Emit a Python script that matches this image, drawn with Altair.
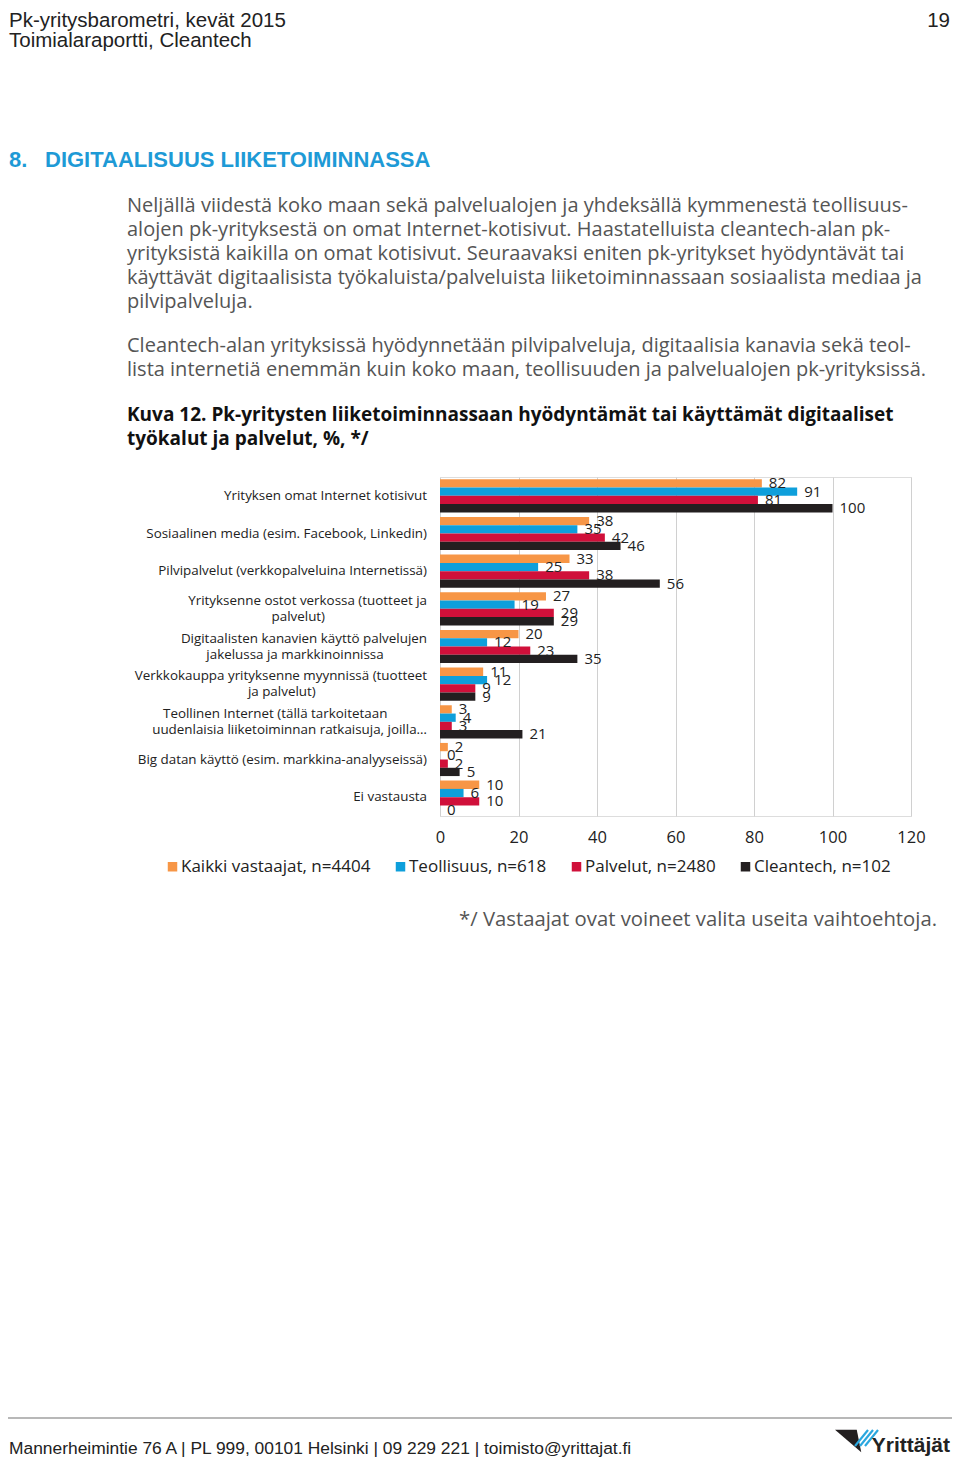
import altair as alt
import pandas as pd

# ---------------- data ----------------
CATEGORIES = [
    "Yrityksen omat Internet kotisivut",
    "Sosiaalinen media (esim. Facebook, Linkedin)",
    "Pilvipalvelut  (verkkopalveluina Internetissä)",
    "Yrityksenne ostot verkossa (tuotteet ja palvelut)",
    "Digitaalisten kanavien käyttö palvelujen jakelussa ja markkinoinnissa",
    "Verkkokauppa yrityksenne myynnissä (tuotteet ja palvelut)",
    "Teollinen Internet (tällä tarkoitetaan uudenlaisia liiketoiminnan ratkaisuja, joilla…",
    "Big datan käyttö (esim. markkina-analyyseissä)",
    "Ei vastausta",
]
CAT_LINE1 = [
    "Yrityksen omat Internet kotisivut",
    "Sosiaalinen media (esim. Facebook, Linkedin)",
    "Pilvipalvelut  (verkkopalveluina Internetissä)",
    "Yrityksenne ostot verkossa (tuotteet ja",
    "Digitaalisten kanavien käyttö palvelujen",
    "Verkkokauppa yrityksenne myynnissä (tuotteet",
    "Teollinen Internet (tällä tarkoitetaan",
    "Big datan käyttö (esim. markkina-analyyseissä)",
    "Ei vastausta",
]
CAT_LINE2 = [
    "", "", "",
    "palvelut)",
    "jakelussa ja markkinoinnissa",
    "ja palvelut)",
    "uudenlaisia liiketoiminnan ratkaisuja, joilla…",
    "", "",
]
SERIES = ["Kaikki vastaajat, n=4404", "Teollisuus, n=618", "Palvelut, n=2480", "Cleantech, n=102"]
KAIKKI = [82, 38, 33, 27, 20, 11, 3, 2, 10]
TEOLLISUUS = [91, 35, 25, 19, 12, 12, 4, 0, 6]
PALVELUT = [81, 42, 38, 29, 23, 9, 3, 2, 10]
CLEANTECH = [100, 46, 56, 29, 35, 9, 21, 5, 0]
X_TICKS = [0, 20, 40, 60, 80, 100, 120]
COLORS = ["#F79646", "#0E9FDB", "#D0103A", "#231F20"]

HEADER_1 = "Pk-yritysbarometri, kevät 2015"
HEADER_2 = "Toimialaraportti, Cleantech"
PAGE_NO = "19"
HEADING_NO = "8."
HEADING = "DIGITAALISUUS LIIKETOIMINNASSA"
PARA1 = [
    "Neljällä viidestä koko maan sekä palvelualojen ja yhdeksällä kymmenestä teollisuus-",
    "alojen pk-yrityksestä on omat Internet-kotisivut. Haastatelluista cleantech-alan pk-",
    "yrityksistä kaikilla on omat kotisivut. Seuraavaksi eniten pk-yritykset hyödyntävät tai",
    "käyttävät digitaalisista työkaluista/palveluista liiketoiminnassaan sosiaalista mediaa ja",
    "pilvipalveluja.",
]
PARA2 = [
    "Cleantech-alan yrityksissä hyödynnetään pilvipalveluja, digitaalisia kanavia sekä teol-",
    "lista internetiä enemmän kuin koko maan, teollisuuden ja palvelualojen pk-yrityksissä.",
]
CAPTION = [
    "Kuva 12. Pk-yritysten liiketoiminnassaan hyödyntämät tai käyttämät digitaaliset",
    "työkalut ja palvelut, %, */",
]
FOOTNOTE = "*/ Vastaajat ovat voineet valita useita vaihtoehtoja."
FOOTER = "Mannerheimintie 76 A | PL 999, 00101 Helsinki | 09 229 221 | toimisto@yrittajat.fi"
LOGO_TEXT = "Yrittäjät"

# ---------------- layout constants ----------------
PLOT_X0, PLOT_Y0 = 440, 477          # page position of plot origin
PLOT_W, PLOT_H = 471, 339
TOTAL_W, TOTAL_H = 944, 1450
BODY = "Open Sans"
NARROW = "Liberation Sans, Arial, sans-serif"
DARK = "#222222"
GREY = "#555555"

rows = []
for i, c in enumerate(CATEGORIES):
    for s, vals in zip(SERIES, [KAIKKI, TEOLLISUUS, PALVELUT, CLEANTECH]):
        rows.append({"cat": c, "series": s, "value": vals[i]})
df = pd.DataFrame(rows)

lab = pd.DataFrame({"cat": CATEGORIES, "l1": CAT_LINE1, "l2": CAT_LINE2})

y_enc = alt.Y("cat:N", sort=CATEGORIES, axis=None,
              scale=alt.Scale(domain=CATEGORIES, paddingInner=0.12, paddingOuter=0.06))
yoff = alt.YOffset("series:N", sort=SERIES,
                   scale=alt.Scale(domain=SERIES, paddingInner=0, paddingOuter=0))
x_enc = alt.X("value:Q", title=None,
              scale=alt.Scale(domain=[0, 120], nice=False, zero=True),
              axis=alt.Axis(values=X_TICKS, grid=True, gridColor="#d0d0d0", domain=False,
                            ticks=False, labelPadding=13, labelFontSize=16.5, labelFont=BODY,
                            labelColor=DARK, labelFlush=False))

bars = alt.Chart(df).mark_bar().encode(
    x=x_enc, y=y_enc, yOffset=yoff,
    color=alt.Color("series:N", sort=SERIES,
                    scale=alt.Scale(domain=SERIES, range=COLORS),
                    legend=alt.Legend(orient="none", legendX=164 - PLOT_X0, legendY=858 - PLOT_Y0,
                                      direction="horizontal", title=None, symbolType="square",
                                      symbolSize=90, symbolStrokeWidth=0, labelFontSize=17,
                                      labelFont=BODY, labelColor=DARK, columnPadding=21,
                                      labelOffset=0, padding=0, labelLimit=0)),
)

values_txt = alt.Chart(df).mark_text(align="left", baseline="middle", dx=7, fontSize=15,
                                     font=BODY, color=DARK).encode(
    x=x_enc, y=y_enc, yOffset=yoff, text="value:Q")

# category labels: longer line right-aligned, shorter line centred under/over it
LAB_FS = 13.4
lab_base = alt.Chart(lab).transform_calculate(
    n1="length(datum.l1)", n2="length(datum.l2)",
    two="datum.l2 != ''",
    cx="-13 - 3.3 * max(length(datum.l1), length(datum.l2))",
)
lab_y = alt.Y("cat:N", sort=CATEGORIES, axis=None)
lab_single = lab_base.transform_filter("!datum.two").mark_text(
    align="right", baseline="middle", fontSize=LAB_FS, font=BODY, color=DARK).encode(
    y=lab_y, x=alt.value(-13), text="l1:N")
lab_1r = lab_base.transform_filter("datum.two && datum.n1 >= datum.n2").mark_text(
    align="right", baseline="middle", dy=-8, fontSize=LAB_FS, font=BODY, color=DARK).encode(
    y=lab_y, x=alt.value(-13), text="l1:N")
lab_1c = lab_base.transform_filter("datum.two && datum.n1 < datum.n2").mark_text(
    align="center", baseline="middle", dy=-8, fontSize=LAB_FS, font=BODY, color=DARK).encode(
    y=lab_y, x=alt.X("cx:Q", scale=None), text="l1:N")
lab_2r = lab_base.transform_filter("datum.two && datum.n2 > datum.n1").mark_text(
    align="right", baseline="middle", dy=8, fontSize=LAB_FS, font=BODY, color=DARK).encode(
    y=lab_y, x=alt.value(-13), text="l2:N")
lab_2c = lab_base.transform_filter("datum.two && datum.n2 <= datum.n1").mark_text(
    align="center", baseline="middle", dy=8, fontSize=LAB_FS, font=BODY, color=DARK).encode(
    y=lab_y, x=alt.X("cx:Q", scale=None), text="l2:N")

ONE = pd.DataFrame({"k": [0]})


def txt(s, px, py, size, color=DARK, font=BODY, weight="normal", align="left"):
    return alt.Chart(ONE).mark_text(text=s, align=align, baseline="middle", fontSize=size,
                                    font=font, fontWeight=weight, color=color).encode(
        x=alt.value(px - PLOT_X0), y=alt.value(py - PLOT_Y0))


page = [
    txt(HEADER_1, 9, 21, 20.5, font=NARROW),
    txt(HEADER_2, 9, 41, 20.5, font=NARROW),
    txt(PAGE_NO, 950, 21, 20.5, font=NARROW, align="right"),
    txt(HEADING_NO, 9, 160, 22, color="#1E9AD6", font=NARROW, weight="bold"),
    txt(HEADING, 45, 160, 22, color="#1E9AD6", font=NARROW, weight="bold"),
]
for i, line in enumerate(PARA1):
    page.append(txt(line, 127, 206 + 24 * i, 20, color=GREY))
for i, line in enumerate(PARA2):
    page.append(txt(line, 127, 346 + 24 * i, 20, color=GREY))
for i, line in enumerate(CAPTION):
    page.append(txt(line, 127, 415 + 24 * i, 19, color="#111111", weight="bold"))
page.append(txt(FOOTNOTE, 937, 920, 20.3, color=GREY, align="right"))
page.append(txt(FOOTER, 9, 1449, 17.4, font=NARROW))

footer_rule = alt.Chart(ONE).mark_rule(color="#a0a0a0", strokeWidth=1.5).encode(
    x=alt.value(8 - PLOT_X0), x2=alt.value(952 - PLOT_X0),
    y=alt.value(1418 - PLOT_Y0))

logo_black = alt.Chart(ONE).mark_point(
    shape="M-1,-0.75L0.45,-0.75L0.75,0.75Z", filled=True, size=900, opacity=1,
    color="#231F20").encode(x=alt.value(850 - PLOT_X0), y=alt.value(1441 - PLOT_Y0))
logo_stripes = [
    alt.Chart(ONE).mark_rule(color="#2AA7DF", strokeWidth=2.2).encode(
        x=alt.value(x0 - PLOT_X0), y=alt.value(1430 - PLOT_Y0),
        x2=alt.value(x0 - 13 - PLOT_X0), y2=alt.value(1446 - PLOT_Y0))
    for x0 in (868, 873, 878)
]
logo_text = txt(LOGO_TEXT, 950, 1446, 21, font="Liberation Sans", weight="bold", align="right")

chart = alt.layer(
    bars, values_txt, lab_single, lab_1r, lab_1c, lab_2r, lab_2c,
    *page, footer_rule, logo_black, *logo_stripes, logo_text,
).properties(
    width=PLOT_W, height=PLOT_H,
    padding={"left": PLOT_X0 - 8, "top": PLOT_Y0 - 8,
             "right": TOTAL_W - (PLOT_X0 - 8) - PLOT_W,
             "bottom": TOTAL_H - (PLOT_Y0 - 8) - PLOT_H},
    autosize=alt.AutoSizeParams(type="none"),
).configure_view(stroke="#d0d0d0", strokeWidth=1).configure(background="white")

chart.save("out.html", embed_options={"renderer": "svg", "actions": False})
